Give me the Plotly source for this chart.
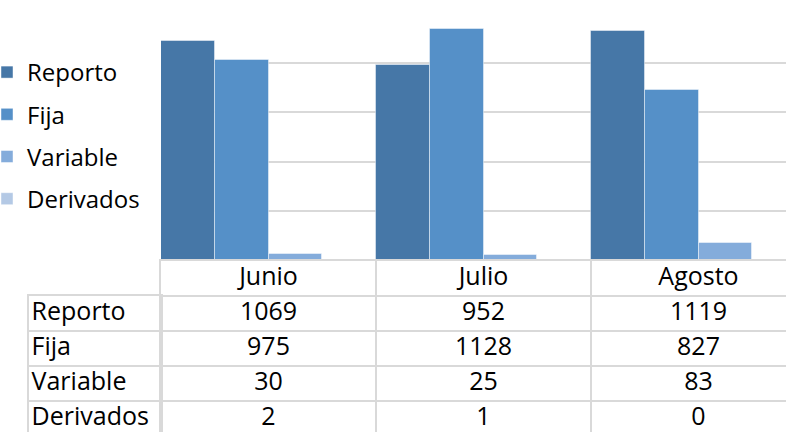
import plotly.graph_objects as go

# datos (millones) por mes
months = ['Junio', 'Julio', 'Agosto']
series = ['Reporto', 'Fija', 'Variable', 'Derivados']
reporto = [1069, 952, 1119]
fija = [975, 1128, 827]
variable = [30, 25, 83]
derivados = [2, 1, 0]
values = [reporto, fija, variable, derivados]
colors = ['#4677a7', '#5590c8', '#84acdb', '#b4c9e5']

W, H = 786, 432
FONT = 'Open Sans'
FS = 25
GRID = '#d9d9d9'
ROW = 35  # alto de fila de la tabla en px

fig = go.Figure()

# barras
for name, vals, col in zip(series, values, colors):
    fig.add_trace(go.Bar(
        x=months, y=vals, name=name, legendgroup=name,
        marker=dict(color=col, line=dict(color='rgba(255,255,255,0.45)', width=1)),
        xaxis='x', yaxis='y', hoverinfo='skip'
    ))

# tabla de datos: encabezado + valores
fig.add_trace(go.Scatter(
    x=months, y=['Mes'] * len(months), text=months, mode='text',
    textfont=dict(family=FONT, size=FS, color='#000'),
    xaxis='x2', yaxis='y2', showlegend=False, hoverinfo='skip'
))
for name, vals in zip(series, values):
    fig.add_trace(go.Scatter(
        x=months, y=[name] * len(months), text=[str(v) for v in vals], mode='text',
        textfont=dict(family=FONT, size=FS, color='#000'),
        xaxis='x2', yaxis='y2', showlegend=False, hoverinfo='skip'
    ))

# columna de etiquetas de la tabla
fig.add_trace(go.Scatter(
    x=[0] * len(series), y=series, text=series, mode='text', textposition='middle right',
    textfont=dict(family=FONT, size=FS, color='#000'),
    xaxis='x3', yaxis='y3', showlegend=False, hoverinfo='skip'
))

left = 161 / W
tab_top = 261
lab_top = tab_top + ROW
cut = (ROW * 5 - (H - tab_top)) / ROW  # parte de la ultima fila que queda fuera

fig.update_layout(
    width=W, height=H,
    margin=dict(l=0, r=0, t=0, b=0, autoexpand=False),
    paper_bgcolor='white', plot_bgcolor='white',
    barmode='group', bargap=0, bargroupgap=0,
    font=dict(family=FONT, color='#000'),
    showlegend=True,
    legend=dict(x=-13 / W, xanchor='left', y=1 - 50 / H, yanchor='top',
                font=dict(family=FONT, size=FS - 1), tracegroupgap=8,
                bgcolor='rgba(0,0,0,0)'),
    xaxis=dict(domain=[left, 1], type='category', range=[-0.5, 2.5 - 20 / 215],
               showticklabels=False, showgrid=False, zeroline=False, ticks=''),
    yaxis=dict(domain=[(H - 260) / H, (H - 14) / H], range=[0, 1200], dtick=240,
               showgrid=True, gridcolor=GRID, gridwidth=2, showticklabels=False,
               zeroline=False, ticks=''),
    xaxis2=dict(domain=[left, 1], anchor='y2', type='category', matches='x',
                tickson='boundaries', showgrid=True, gridcolor=GRID, gridwidth=2,
                showticklabels=False, ticks='', showline=True, linecolor=GRID,
                linewidth=2, mirror=True, zeroline=False),
    yaxis2=dict(domain=[0, (H - tab_top) / H], anchor='x2', type='category',
                categoryorder='array', categoryarray=['Mes'] + series,
                range=[4.5 - cut, -0.5], tickson='boundaries', showgrid=True,
                gridcolor=GRID, gridwidth=2, showticklabels=False, ticks='',
                showline=True, linecolor=GRID, linewidth=2, zeroline=False),
    xaxis3=dict(domain=[29 / W, left], anchor='y3', range=[-0.02, 1],
                showgrid=False, showticklabels=False, ticks='', zeroline=False,
                showline=True, linecolor=GRID, linewidth=2, mirror=True),
    yaxis3=dict(domain=[0, (H - lab_top) / H], anchor='x3', type='category',
                categoryorder='array', categoryarray=series,
                range=[3.5 - cut, -0.5], tickson='boundaries', showgrid=True,
                gridcolor=GRID, gridwidth=2, showticklabels=False, ticks='',
                showline=True, linecolor=GRID, linewidth=2, mirror=True,
                zeroline=False),
)

fig.write_html('out.html', config={'displayModeBar': False},
               post_script="document.body.style.margin='0';")
